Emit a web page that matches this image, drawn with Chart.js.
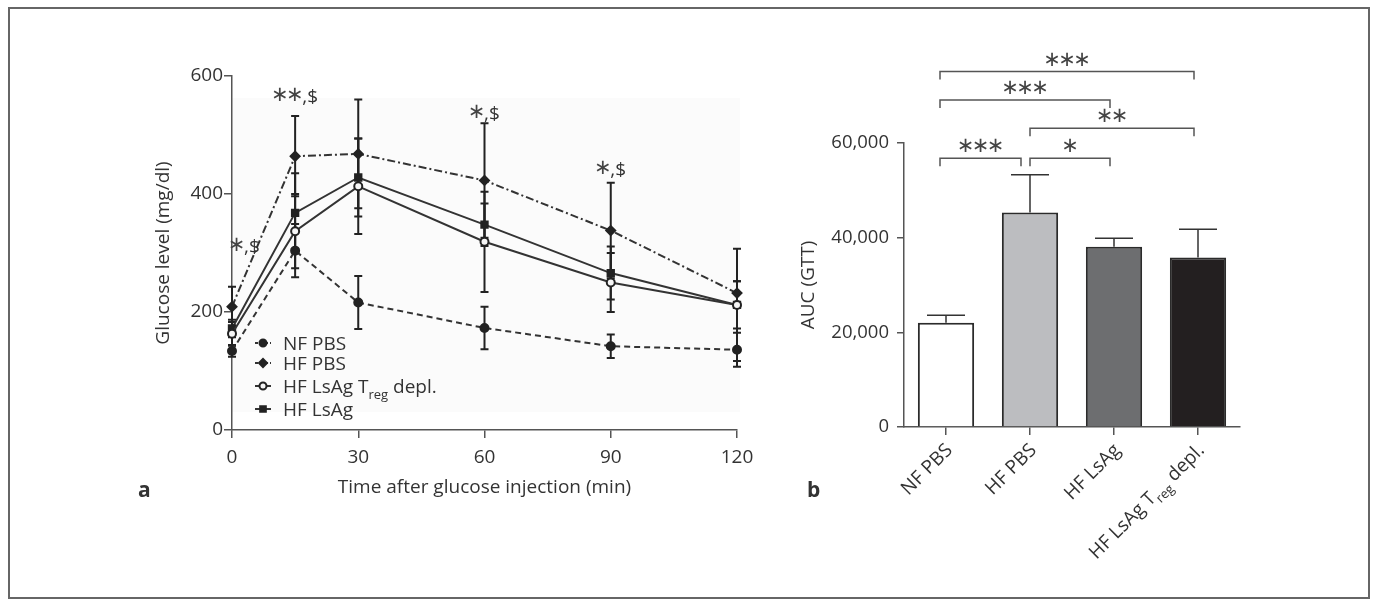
<!DOCTYPE html>
<html>
<head>
<meta charset="utf-8">
<script src="https://cdn.jsdelivr.net/npm/chart.js@4.4.1/dist/chart.umd.min.js"></script>
<style>
  body { margin: 0; background: #fff; }
  #frame { position: absolute; left: 8px; top: 7px; width: 1358px; height: 588px; border: 2px solid #666; }
  #glucose { position: absolute; left: 0; top: 0; }
  #auc { position: absolute; left: 780px; top: 0; }
</style>
</head>
<body>
<div id="frame"></div>
<canvas id="glucose" width="780" height="605"></canvas>
<canvas id="auc" width="595" height="605"></canvas>
<script>
// ---- panel a: glucose tolerance test ----
var times = [0, 15, 30, 60, 90, 120];
var nfPbsMean = [134, 304, 216, 173, 142, 136];
var nfPbsSd = [10, 45, 45, 36, 20, 29];
var hfPbsMean = [209, 464, 468, 423, 338, 232];
var hfPbsSd = [34, 68, 92, 97, 81, 20];
var tregMean = [163, 337, 413, 319, 250, 212];
var tregSd = [20, 63, 81, 85, 50, 95];
var lsagMean = [172, 368, 428, 348, 266, 212];
var lsagSd = [15, 67, 66, 36, 45, 40];
var seriesNames = ['NF PBS', 'HF PBS', 'HF LsAg T_{reg} depl.', 'HF LsAg'];

var sigTimes = [0, 15, 60, 90];
var sigMarks = ['*,$', '**,$', '*,$', '*,$'];
var sigLevels = [300, 554, 525, 430];

// ---- panel b: area under the curve ----
var groups = ['NF PBS', 'HF PBS', 'HF LsAg', 'HF LsAg T_{reg} depl.'];
var aucMean = [22000, 45300, 38100, 35800];
var aucErr = [1600, 8000, 1800, 6000];
var barFills = ['#ffffff', '#bcbdc0', '#6d6e70', '#231f20'];

var sigFrom = [0, 1, 1, 0, 0];
var sigTo = [1, 2, 3, 2, 3];
var sigHeight = [56800, 56800, 63100, 69100, 75100];
var sigStars = ['***', '*', '**', '***', '***'];

var ink = '#333';
var axisColor = '#555';
var font19 = { family: 'Open Sans', size: 19 };
var starFont = '21px "DejaVu Sans"';
var starStep = 15;

function parseRich(label, size) {
  var parts = [], re = /_\{([^}]*)\}/g, last = 0, m;
  while ((m = re.exec(label)) !== null) {
    if (m.index > last) parts.push({ t: label.slice(last, m.index), font: size + 'px "Open Sans"', dy: 0 });
    parts.push({ t: m[1], font: Math.round(size * 0.68) + 'px "Open Sans"', dy: size * 0.3 });
    last = re.lastIndex;
  }
  if (last < label.length) parts.push({ t: label.slice(last), font: size + 'px "Open Sans"', dy: 0 });
  return parts;
}

function starParts(str, dy) {
  var parts = [];
  for (var i = 0; i < str.length; i++) {
    if (str[i] === '*') parts.push({ t: '\u2217', font: starFont, dy: dy, adv: starStep, color: '#444' });
    else parts.push({ t: str[i], font: '19px "Open Sans"', dy: 0 });
  }
  return parts;
}

function drawRich(ctx, parts, x, y, align) {
  var w = 0, base = ctx.fillStyle;
  parts.forEach(function (p) {
    ctx.font = p.font;
    p.gw = ctx.measureText(p.t).width;
    p.w = p.adv || p.gw;
    w += p.w;
  });
  var cx = align === 'right' ? x - w : (align === 'center' ? x - w / 2 : x);
  ctx.textAlign = 'left';
  parts.forEach(function (p) {
    ctx.font = p.font;
    ctx.fillStyle = p.color || base;
    ctx.fillText(p.t, cx + (p.w - p.gw) / 2, y + p.dy);
    cx += p.w;
  });
  ctx.fillStyle = base;
}

function pts(means) {
  return times.map(function (t, i) { return { x: t, y: means[i] }; });
}

var lineSets = [
  { mean: nfPbsMean, sd: nfPbsSd, dash: [6, 4], style: 'circle', r: 4, fill: '#222' },
  { mean: hfPbsMean, sd: hfPbsSd, dash: [8, 3, 2, 3], style: 'rectRot', r: 4.5, fill: '#222' },
  { mean: tregMean, sd: tregSd, dash: [], style: 'circle', r: 4, fill: '#f6f6f6' },
  { mean: lsagMean, sd: lsagSd, dash: [], style: 'rect', r: 4.5, fill: '#222' }
];

var plotShade = {
  id: 'plotShade',
  beforeDraw: function (chart) {
    var ca = chart.chartArea, ctx = chart.ctx;
    ctx.save();
    ctx.fillStyle = '#fbfbfb';
    ctx.fillRect(ca.left, ca.top + 22, ca.right - ca.left + 3, ca.bottom - ca.top - 40);
    ctx.restore();
  }
};

var gttErrors = {
  id: 'gttErrors',
  beforeDatasetsDraw: function (chart) {
    var ctx = chart.ctx, x = chart.scales.x, y = chart.scales.y;
    ctx.save();
    ctx.strokeStyle = '#222';
    ctx.lineWidth = 2;
    lineSets.forEach(function (s) {
      times.forEach(function (t, i) {
        var px = x.getPixelForValue(t);
        var top = y.getPixelForValue(s.mean[i] + s.sd[i]);
        var bot = y.getPixelForValue(s.mean[i] - s.sd[i]);
        ctx.beginPath();
        ctx.moveTo(px, top); ctx.lineTo(px, bot);
        ctx.moveTo(px - 4, top); ctx.lineTo(px + 4, top);
        ctx.moveTo(px - 4, bot); ctx.lineTo(px + 4, bot);
        ctx.stroke();
      });
    });
    ctx.restore();
  }
};

var gttExtras = {
  id: 'gttExtras',
  afterDraw: function (chart) {
    var ctx = chart.ctx, ca = chart.chartArea, x = chart.scales.x, y = chart.scales.y;
    ctx.save();
    ctx.fillStyle = ink;
    ctx.textBaseline = 'alphabetic';
    // significance marks
    sigTimes.forEach(function (t, i) {
      var px = x.getPixelForValue(t), py = y.getPixelForValue(sigLevels[i]);
      if (t === 0) drawRich(ctx, starParts(sigMarks[i], -2), px - 3, py, 'left');
      else drawRich(ctx, starParts(sigMarks[i], -2), px, py, 'center');
    });
    // legend
    var rows = [80, 60, 37, 14];
    lineSets.forEach(function (s, i) {
      var base = ca.bottom - rows[i], cy = base - 7, lx = ca.left + 23;
      ctx.strokeStyle = '#333';
      ctx.lineWidth = 2;
      ctx.setLineDash(s.dash.length ? [3, 2] : []);
      ctx.beginPath(); ctx.moveTo(lx, cy); ctx.lineTo(lx + 16, cy); ctx.stroke();
      ctx.setLineDash([]);
      ctx.fillStyle = s.fill;
      ctx.strokeStyle = '#222';
      Chart.helpers.drawPoint(ctx, { pointStyle: s.style, radius: s.r - 0.5, borderWidth: 2 }, lx + 8, cy);
      ctx.fillStyle = ink;
      drawRich(ctx, parseRich(seriesNames[i], 19), lx + 28, base, 'left');
    });
    ctx.font = 'bold 21px "Open Sans"';
    ctx.textAlign = 'left';
    ctx.fillText('a', 138, 497);
    ctx.restore();
  }
};

new Chart(document.getElementById('glucose'), {
  type: 'line',
  data: {
    datasets: lineSets.map(function (s, i) {
      return {
        label: seriesNames[i],
        data: pts(s.mean),
        borderColor: '#333',
        borderWidth: 2,
        borderDash: s.dash,
        tension: 0,
        clip: false,
        pointStyle: s.style,
        pointRadius: s.r,
        pointBorderWidth: 2,
        pointBackgroundColor: s.fill,
        pointBorderColor: '#222'
      };
    })
  },
  options: {
    responsive: false,
    animation: false,
    events: [],
    layout: { padding: { left: 152, right: 43, top: 76, bottom: 106 } },
    plugins: { legend: { display: false }, tooltip: { enabled: false } },
    scales: {
      x: {
        type: 'linear', min: 0, max: 120,
        afterFit: function (s) { s.height = 69; },
        ticks: { stepSize: 30, color: ink, font: font19, padding: 8 },
        grid: { drawOnChartArea: false, drawTicks: true, tickLength: 8, color: axisColor, lineWidth: 1.5 },
        border: { display: true, color: axisColor, width: 1.5 },
        title: { display: true, text: 'Time after glucose injection (min)', color: ink, font: font19, padding: 0 }
      },
      y: {
        min: 0, max: 600,
        afterFit: function (s) { s.width = 80; },
        ticks: { stepSize: 200, color: ink, font: font19, padding: 1 },
        grid: { drawOnChartArea: false, drawTicks: true, tickLength: 8, color: axisColor, lineWidth: 1.5 },
        border: { display: true, color: axisColor, width: 1.5 },
        title: { display: true, text: 'Glucose level (mg/dl)', color: ink, font: font19, padding: 0 }
      }
    }
  },
  plugins: [plotShade, gttErrors, gttExtras]
});

var aucExtras = {
  id: 'aucExtras',
  afterDatasetsDraw: function (chart) {
    var ctx = chart.ctx, ca = chart.chartArea, x = chart.scales.x, y = chart.scales.y;
    ctx.save();
    // error bars (upper only)
    ctx.strokeStyle = '#333';
    ctx.lineWidth = 1.5;
    aucMean.forEach(function (v, i) {
      var px = x.getPixelForValue(i);
      var top = y.getPixelForValue(v + aucErr[i]);
      ctx.beginPath();
      ctx.moveTo(px, y.getPixelForValue(v)); ctx.lineTo(px, top);
      ctx.moveTo(px - 19, top); ctx.lineTo(px + 19, top);
      ctx.stroke();
    });
    // significance brackets
    ctx.strokeStyle = '#555';
    ctx.fillStyle = ink;
    sigFrom.forEach(function (f, i) {
      var x1 = x.getPixelForValue(f) + (f === 0 ? -6 : 0);
      var x2 = x.getPixelForValue(sigTo[i]) - (sigTo[i] === 1 ? 9 : 4);
      var py = y.getPixelForValue(sigHeight[i]);
      ctx.beginPath();
      ctx.moveTo(x1, py + 8); ctx.lineTo(x1, py); ctx.lineTo(x2, py); ctx.lineTo(x2, py + 8);
      ctx.stroke();
      ctx.textBaseline = 'alphabetic';
      drawRich(ctx, starParts(sigStars[i], 0), (x1 + x2) / 2, py - 6, 'center');
    });
    // rotated category labels
    ctx.textBaseline = 'alphabetic';
    groups.forEach(function (g, i) {
      var px = x.getPixelForValue(i);
      ctx.save();
      ctx.translate(px + 3, ca.bottom + 20);
      ctx.rotate(-Math.PI / 4);
      drawRich(ctx, parseRich(g, 19), 0, 6, 'right');
      ctx.restore();
    });
    ctx.font = 'bold 21px "Open Sans"';
    ctx.textAlign = 'left';
    ctx.fillText('b', 27, 497);
    ctx.restore();
  }
};

new Chart(document.getElementById('auc'), {
  type: 'bar',
  data: {
    labels: groups,
    datasets: [{
      data: aucMean,
      backgroundColor: barFills,
      borderColor: '#2b2b2b',
      borderWidth: 2,
      barPercentage: 0.67,
      categoryPercentage: 1
    }]
  },
  options: {
    responsive: false,
    animation: false,
    events: [],
    layout: { padding: { left: 17, right: 135, top: 143, bottom: 168 } },
    plugins: { legend: { display: false }, tooltip: { enabled: false } },
    scales: {
      x: {
        afterFit: function (s) { s.height = 10; },
        ticks: { display: false },
        grid: { offset: false, drawOnChartArea: false, drawTicks: true, tickLength: 8, color: axisColor, lineWidth: 1.5 },
        border: { display: true, color: axisColor, width: 1.5 }
      },
      y: {
        min: 0, max: 60000,
        afterFit: function (s) { s.width = 107; },
        ticks: {
          stepSize: 20000, color: ink, font: { family: 'Open Sans', size: 18.5 }, padding: 8,
          callback: function (v) { return v.toLocaleString('en-US'); }
        },
        grid: { drawOnChartArea: false, drawTicks: true, tickLength: 7, color: axisColor, lineWidth: 1.5 },
        border: { display: true, color: axisColor, width: 1.5 },
        title: { display: true, text: 'AUC (GTT)', color: ink, font: font19, padding: 0 }
      }
    }
  },
  plugins: [aucExtras]
});
</script>
</body>
</html>
